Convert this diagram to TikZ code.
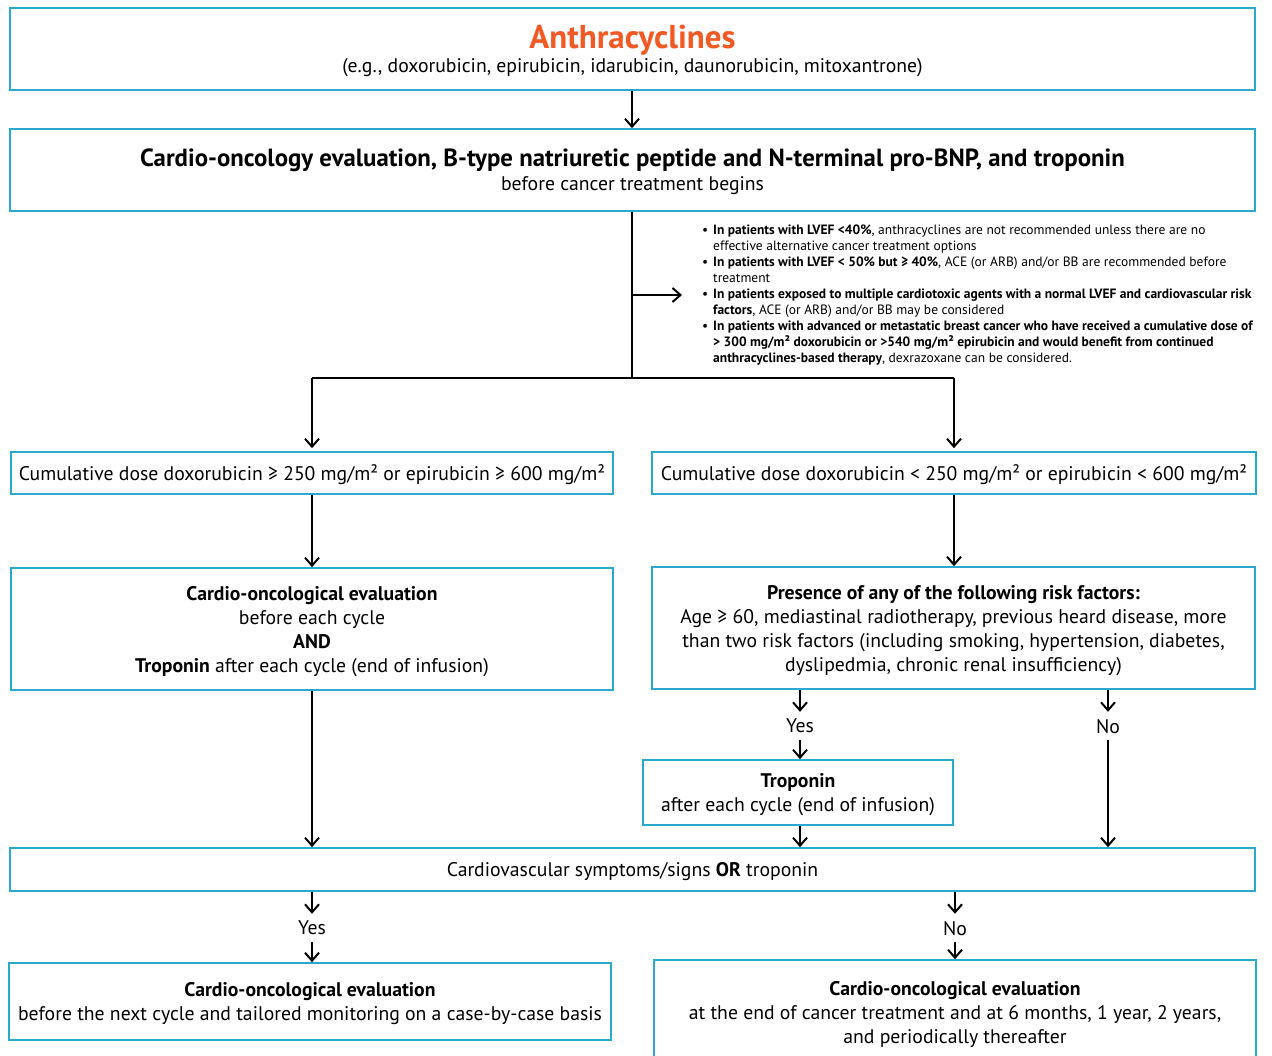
\documentclass[tikz,border=0pt]{standalone}
\usepackage{fontspec}
\setmainfont{PT Sans}
\usetikzlibrary{arrows.meta}
\definecolor{bordc}{RGB}{41,170,204}
\definecolor{titc}{RGB}{241,90,36}
\newcommand{\bulitem}{\par\hangindent=11pt\hangafter=1\noindent\makebox[11pt][l]{•}}
\begin{document}
\begin{tikzpicture}[x=1pt,y=-1pt,
 box/.style={draw=bordc, line width=1.6pt, inner sep=0pt, align=center, text depth=0pt, font=\fontsize{19.7}{24}\selectfont},
 arr/.style={line width=2pt, -{Straight Barb[length=8pt,width=14pt,line width=2pt]}},
 conn/.style={line width=2pt},
 lbl/.style={inner sep=0pt, minimum height=28pt, text depth=0pt, font=\fontsize{19.7}{24}\selectfont}]
\clip (0,0) rectangle (1272,1056);
\useasboundingbox (0,0) rectangle (1272,1056);

\node[box, minimum width=1245pt, minimum height=82pt] (b1) at (632.5,49)
 {{\fontsize{33}{36}\selectfont\bfseries\color{titc}Anthracyclines}\\[0pt]
  (e.g., doxorubicin, epirubicin, idarubicin, daunorubicin, mitoxantrone)};

\node[box, minimum width=1245pt, minimum height=82pt] (b2) at (632.5,170)
 {{\fontsize{24.8}{28}\selectfont\bfseries Cardio-oncology evaluation, B-type natriuretic peptide and N-terminal pro-BNP, and troponin}\\[0pt]
  before cancer treatment begins};

\node[inner sep=0pt, anchor=north west, font=\fontsize{13.5}{16}\selectfont] (bul) at (702,225) {%
\begin{minipage}{570pt}\raggedright
\bulitem\textbf{In patients with LVEF <40\%}, anthracyclines are not recommended unless there are no\newline effective alternative cancer treatment options
\bulitem\textbf{In patients with LVEF < 50\% but ≥ 40\%}, ACE (or ARB) and/or BB are recommended before\newline treatment
\bulitem\textbf{In patients exposed to multiple cardiotoxic agents with a normal LVEF and cardiovascular risk}\newline\textbf{factors}, ACE (or ARB) and/or BB may be considered
\bulitem\textbf{In patients with advanced or metastatic breast cancer who have received a cumulative dose of}\newline\textbf{> 300 mg/m² doxorubicin or >540 mg/m² epirubicin and would benefit from continued}\newline\textbf{anthracyclines-based therapy}, dexrazoxane can be considered.\par
\end{minipage}};

\node[box, minimum width=602pt, minimum height=42pt] (b3L) at (312,473)
 {Cumulative dose doxorubicin ≥ 250 mg/m² or epirubicin ≥ 600 mg/m²};
\node[box, minimum width=604pt, minimum height=42pt] (b3R) at (954,473)
 {Cumulative dose doxorubicin < 250 mg/m² or epirubicin < 600 mg/m²};

\node[box, minimum width=602pt, minimum height=122pt] (b4L) at (312,629)
 {\textbf{Cardio-oncological evaluation}\\ before each cycle\\ \textbf{AND}\\ \textbf{Troponin} after each cycle (end of infusion)};
\node[box, minimum width=603pt, minimum height=122pt] (b4R) at (953.5,628)
 {\textbf{Presence of any of the following risk factors:}\\ Age ≥ 60, mediastinal radiotherapy, previous heard disease, more\\ than two risk factors (including smoking, hypertension, diabetes,\\ dyslipedmia, chronic renal insufficiency)};

\node[lbl] (yes1) at (800,726) {Yes};
\node[lbl] (no1) at (1108,726) {No};

\node[box, minimum width=310pt, minimum height=65pt] (trop) at (798,792.5)
 {\textbf{Troponin}\\ after each cycle (end of infusion)};

\node[box, minimum width=1245pt, minimum height=43pt] (b5) at (632.5,869.5)
 {Cardiovascular symptoms/signs \textbf{OR} troponin};

\node[lbl] (yes2) at (312,928) {Yes};
\node[lbl] (no2) at (955,928) {No};

\node[box, minimum width=602pt, minimum height=77pt] (b6L) at (310,1001.5)
 {\textbf{Cardio-oncological evaluation}\\ before the next cycle and tailored monitoring on a case-by-case basis};
\node[box, minimum width=602pt, minimum height=104pt] (b6R) at (955,1012)
 {\textbf{Cardio-oncological evaluation}\\ at the end of cancer treatment and at 6 months, 1 year, 2 years,\\ and periodically thereafter};

\coordinate (split) at (632,378);
\coordinate (side) at (632,295);

\draw[arr] (b1.south -| split) -- (b2.north -| split);
\draw[conn] (b2.south -| split) -- (split);
\draw[arr] (side) -- ([xshift=-20pt]bul.west |- side);
\draw[conn] (split -| b3L) -- (split -| b3R);
\draw[arr] (split -| b3L) -- ([yshift=3pt]b3L.north);
\draw[arr] (split -| b3R) -- ([yshift=3pt]b3R.north);
\draw[arr] (b3L.south) -- (b4L.north -| b3L);
\draw[arr] (b3R.south) -- (b4R.north -| b3R);
\draw[arr] (b4L.south) -- (b5.north -| b4L);
\draw[arr] (b4R.south -| yes1) -- (yes1.north);
\draw[arr] (yes1.south) -- (trop.north -| yes1);
\draw[arr] (b4R.south -| no1) -- (no1.north);
\draw[arr] (no1.south) -- (b5.north -| no1);
\draw[arr] (trop.south -| yes1) -- (b5.north -| yes1);
\draw[arr] (b5.south -| yes2) -- (yes2.north);
\draw[arr] (yes2.south) -- (b6L.north -| yes2);
\draw[arr] (b5.south -| no2) -- (no2.north);
\draw[arr] (no2.south) -- (b6R.north -| no2);
\end{tikzpicture}
\end{document}
